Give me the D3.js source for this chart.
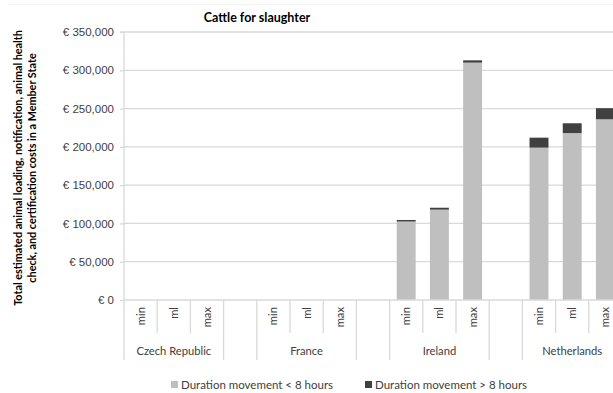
<!DOCTYPE html>
<html>
<head>
<meta charset="utf-8">
<script src="https://cdn.jsdelivr.net/npm/d3@7/dist/d3.min.js"></script>
<style>
  html, body { margin: 0; padding: 0; background: #fff; }
  svg { display: block; font-family: Lato, "Open Sans", sans-serif; }
</style>
</head>
<body>
<svg id="chart" width="613" height="393"></svg>
<script>
// Member states and cost scenarios shown on the category axis
const countries = ["Czech Republic", "France", "Ireland", "Netherlands"];
const scenarios = ["min", "ml", "max"];

// Costs per country, in scenario order (min, ml, max)
const shortMoves = [
  [0, 0, 0],
  [0, 0, 0],
  [102500, 118000, 310000],
  [199000, 218000, 236000]
];
const longMoves = [
  [0, 0, 0],
  [0, 0, 0],
  [2000, 2500, 3000],
  [13000, 12800, 14500]
];

const yTicks = [0, 50000, 100000, 150000, 200000, 250000, 300000, 350000];
const seriesNames = ["Duration movement < 8 hours", "Duration movement > 8 hours"];
const seriesColors = ["#bfbfbf", "#404040"];

const svg = d3.select("#chart");
const plot = { left: 124, right: 622, top: 32, bottom: 300 };

// One slot per scenario, plus an empty slot between countries
const slots = [];
countries.forEach((c, ci) => {
  scenarios.forEach((s, si) => slots.push({ key: c + "|" + s, country: c, scenario: s, ci, si }));
  if (ci < countries.length - 1) slots.push({ key: "gap" + ci, gap: true });
});

const x = d3.scaleBand()
  .domain(slots.map(d => d.key))
  .range([plot.left, plot.right])
  .paddingInner(0.43)
  .paddingOuter(0.215);

const step = x.step();
const y = d3.scaleLinear().domain([0, 350000]).range([plot.bottom, plot.top]);

// Faint outer frame line along the top
svg.append("line")
  .attr("x1", 8).attr("x2", 613).attr("y1", 4.5).attr("y2", 4.5)
  .attr("stroke", "#f2f2f2").attr("stroke-width", 1);

// Horizontal gridlines
svg.append("g")
  .selectAll("line")
  .data(yTicks.filter(t => t > 0))
  .join("line")
  .attr("x1", plot.left).attr("x2", 613)
  .attr("y1", d => y(d)).attr("y2", d => y(d))
  .attr("stroke", "#d9d9d9").attr("stroke-width", 1.3);

// Y axis
const yAxis = d3.axisLeft(y)
  .tickValues(yTicks)
  .tickSize(4)
  .tickPadding(6)
  .tickFormat(d => "€ " + d3.format(",")(d));

const yg = svg.append("g")
  .attr("transform", `translate(${plot.left},0)`)
  .call(yAxis);
yg.select(".domain").attr("stroke", "#d9d9d9").attr("stroke-width", 1.3)
  .attr("d", `M-4,${plot.top}H0V${plot.bottom}`);
yg.selectAll(".tick line").attr("stroke", "#d9d9d9").attr("stroke-width", 1.3);
yg.selectAll(".tick text")
  .attr("fill", "#404040")
  .style("font-size", "11.5px");

// Stacked bars
const barData = [];
slots.filter(s => !s.gap).forEach(s => {
  const a = shortMoves[s.ci][s.si];
  const b = longMoves[s.ci][s.si];
  barData.push({ key: s.key, y0: 0, y1: a, series: 0 });
  barData.push({ key: s.key, y0: a, y1: a + b, series: 1 });
});

svg.append("g")
  .selectAll("rect")
  .data(barData.filter(d => d.y1 > d.y0))
  .join("rect")
  .attr("x", d => x(d.key))
  .attr("width", x.bandwidth())
  .attr("y", d => y(d.y1))
  .attr("height", d => y(d.y0) - y(d.y1))
  .attr("fill", d => seriesColors[d.series]);

// Category axis baseline
svg.append("line")
  .attr("x1", plot.left).attr("x2", 613)
  .attr("y1", plot.bottom).attr("y2", plot.bottom)
  .attr("stroke", "#d9d9d9").attr("stroke-width", 1.3);

// Category separators: short between scenarios, long around country groups
const boundaries = [];
slots.forEach((s, i) => {
  const prev = slots[i - 1];
  const xb = x(s.key) - (step - x.bandwidth()) / 2;
  const long = i === 0 || s.gap || (prev && prev.gap);
  boundaries.push({ x: xb, long });
});
boundaries.push({ x: plot.right, long: true });
svg.append("g")
  .selectAll("line")
  .data(boundaries)
  .join("line")
  .attr("x1", d => d.x).attr("x2", d => d.x)
  .attr("y1", plot.bottom).attr("y2", d => d.long ? 360 : 333)
  .attr("stroke", "#d9d9d9").attr("stroke-width", 1.3);

// Scenario labels (rotated)
svg.append("g")
  .selectAll("text")
  .data(slots.filter(s => !s.gap))
  .join("text")
  .attr("transform", d => `translate(${x(d.key) + x.bandwidth() / 2 + 4},307) rotate(-90)`)
  .attr("text-anchor", "end")
  .attr("fill", "#404040")
  .style("font-size", "11.2px")
  .text(d => d.scenario);

// Country labels
svg.append("g")
  .selectAll("text")
  .data(countries)
  .join("text")
  .attr("x", c => {
    const k0 = c + "|" + scenarios[0], k2 = c + "|" + scenarios[2];
    return (x(k0) + x(k2) + x.bandwidth()) / 2;
  })
  .attr("y", 355)
  .attr("text-anchor", "middle")
  .attr("fill", "#404040")
  .style("font-size", "11.2px")
  .text(c => c);

// Title
svg.append("text")
  .attr("x", 257).attr("y", 22)
  .attr("text-anchor", "middle")
  .attr("fill", "#000")
  .style("font-size", "12.5px")
  .style("font-weight", "bold")
  .text("Cattle for slaughter");

// Y axis title, two lines
const yTitle = svg.append("text")
  .attr("transform", "translate(22,168) rotate(-90)")
  .attr("text-anchor", "middle")
  .attr("fill", "#000")
  .style("font-size", "10.8px")
  .style("font-weight", "bold");
yTitle.append("tspan").attr("x", 0).attr("dy", 0)
  .text("Total estimated animal loading, notification, animal health");
yTitle.append("tspan").attr("x", 0).attr("dy", 14)
  .text("check, and certification costs in a Member State");

// Legend
const legendX = [171, 365];
const lg = svg.append("g").selectAll("g")
  .data(seriesNames)
  .join("g")
  .attr("transform", (d, i) => `translate(${legendX[i]},385)`);
lg.append("rect")
  .attr("x", 0).attr("y", -4).attr("width", 7).attr("height", 7)
  .attr("fill", (d, i) => seriesColors[i]);
lg.append("text")
  .attr("x", 10).attr("y", 3.8)
  .attr("fill", "#404040")
  .style("font-size", "11.5px")
  .text(d => d);
</script>
</body>
</html>
